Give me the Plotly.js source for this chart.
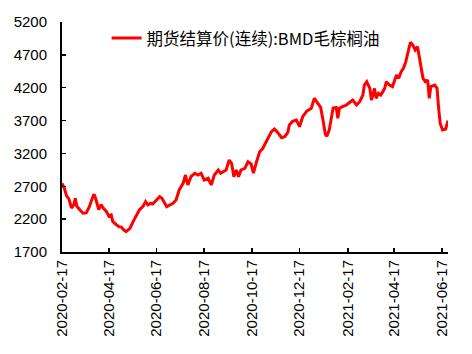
<!DOCTYPE html>
<html>
<head>
<meta charset="utf-8">
<script src="https://cdn.plot.ly/plotly-3.0.1.min.js"></script>
<style>html,body{margin:0;padding:0;background:#fff;}#chart{width:472px;height:354px;}</style>
</head>
<body>
<div id="chart"></div>
<script>
var seriesName = "期货结算价(连续):BMD毛棕榈油";
var dates = [
"2020-02-17","2020-02-20","2020-02-23","2020-02-26","2020-02-29","2020-03-03","2020-03-05","2020-03-07","2020-03-11","2020-03-15",
"2020-03-19","2020-03-23","2020-03-26","2020-03-29","2020-03-31","2020-04-02","2020-04-04","2020-04-07","2020-04-10","2020-04-14",
"2020-04-17","2020-04-20","2020-04-22","2020-04-27","2020-04-30","2020-05-03","2020-05-06","2020-05-09","2020-05-14","2020-05-18",
"2020-05-22","2020-05-26","2020-05-31","2020-06-03","2020-06-06","2020-06-09","2020-06-12","2020-06-15","2020-06-21","2020-06-24","2020-06-30",
"2020-07-04","2020-07-08","2020-07-12","2020-07-16","2020-07-21","2020-07-24","2020-07-27","2020-07-31","2020-08-05","2020-08-09",
"2020-08-13","2020-08-17","2020-08-22","2020-08-26","2020-08-30","2020-09-04","2020-09-07","2020-09-10","2020-09-14","2020-09-18",
"2020-09-21","2020-09-24","2020-09-27","2020-09-30","2020-10-03","2020-10-08","2020-10-12","2020-10-16","2020-10-19","2020-10-23",
"2020-10-27","2020-10-31","2020-11-04","2020-11-06","2020-11-11","2020-11-15","2020-11-19","2020-11-24","2020-11-28","2020-12-02",
"2020-12-04","2020-12-08","2020-12-13","2020-12-17","2020-12-21","2020-12-26","2020-12-29","2021-01-01","2021-01-05","2021-01-09",
"2021-01-13","2021-01-16","2021-01-19","2021-01-21","2021-01-24","2021-01-29","2021-02-02","2021-02-04","2021-02-06","2021-02-10",
"2021-02-15","2021-02-19","2021-02-23","2021-02-28","2021-03-04","2021-03-08","2021-03-10","2021-03-13","2021-03-17","2021-03-19",
"2021-03-23","2021-03-25","2021-03-28","2021-03-31","2021-04-05","2021-04-07","2021-04-11","2021-04-15","2021-04-20","2021-04-23",
"2021-04-26","2021-04-29","2021-05-02","2021-05-06","2021-05-08","2021-05-11","2021-05-14","2021-05-17","2021-05-19","2021-05-22",
"2021-05-24","2021-05-27","2021-05-30","2021-06-01","2021-06-03","2021-06-08","2021-06-11","2021-06-13","2021-06-15","2021-06-18",
"2021-06-22","2021-06-25"
];
var prices = [
2745,2669,2550,2505,2370,2415,2517,2395,2339,2289,
2295,2390,2491,2580,2517,2441,2345,2420,2365,2313,
2245,2263,2162,2111,2086,2080,2035,2009,2060,2162,
2263,2339,2400,2466,2415,2441,2430,2466,2542,2517,2390,
2415,2441,2491,2644,2745,2872,2720,2846,2898,2872,
2898,2796,2822,2720,2872,2948,2898,2922,2948,3100,
3050,2846,2948,2846,2948,2974,3074,3040,2900,3074,
3226,3278,3379,3430,3531,3570,3520,3440,3455,3520,
3633,3690,3709,3607,3759,3840,3861,3887,4039,3975,
3900,3709,3490,3460,3557,3890,3900,3734,3887,3911,
3937,3975,4013,3937,3987,4089,4241,4292,4190,4013,
4190,4039,4115,4089,4190,4292,4241,4216,4393,4343,
4444,4495,4596,4799,4891,4850,4774,4825,4698,4495,
4343,4292,4317,4039,4216,4241,4190,3887,3658,3557,
3572,3700
];
var tickDates = ["2020-02-17","2020-04-17","2020-06-17","2020-08-17","2020-10-17","2020-12-17","2021-02-17","2021-04-17","2021-06-17"];
var tickLabels = ["2020-02-17","2020-04-17","2020-06-17","2020-08-17","2020-10-17","2020-12-17","2021-02-17","2021-04-17","2021-06-17"];

var trace = {
  x: dates, y: prices, type: 'scatter', mode: 'lines', name: seriesName,
  line: {color: '#FF0000', width: 3}
};
var layout = {
  width: 472, height: 354,
  margin: {l: 62, r: 24, t: 22, b: 102},
  paper_bgcolor: '#fff', plot_bgcolor: '#fff',
  font: {family: 'Liberation Sans, Arial, sans-serif', size: 15, color: '#000'},
  showlegend: true,
  legend: {x: 0.1155, y: 1.005, xanchor: 'left', yanchor: 'top', bgcolor: 'rgba(0,0,0,0)',
           font: {family: 'Noto Sans CJK SC, sans-serif', size: 16.5, color: '#000'}},
  xaxis: {
    type: 'date', range: ['2020-02-17', '2021-06-25'],
    tickmode: 'array', tickvals: tickDates, ticktext: tickLabels, tickangle: -90,
    ticks: 'inside', ticklen: 4, tickwidth: 1.5, tickcolor: '#000',
    showline: true, linecolor: '#000', linewidth: 2, showgrid: false, zeroline: false,
    tickfont: {size: 15, color: '#000'}
  },
  yaxis: {
    range: [1700, 5200], dtick: 500, tick0: 1700,
    ticks: 'inside', ticklen: 4, tickwidth: 1.5, tickcolor: '#000',
    showline: true, linecolor: '#000', linewidth: 2, showgrid: false, zeroline: false,
    ticklabelstandoff: 10,
    tickfont: {size: 15, color: '#000'}
  }
};
Plotly.newPlot('chart', [trace], layout, {displayModeBar: false, staticPlot: true});
</script>
</body>
</html>
